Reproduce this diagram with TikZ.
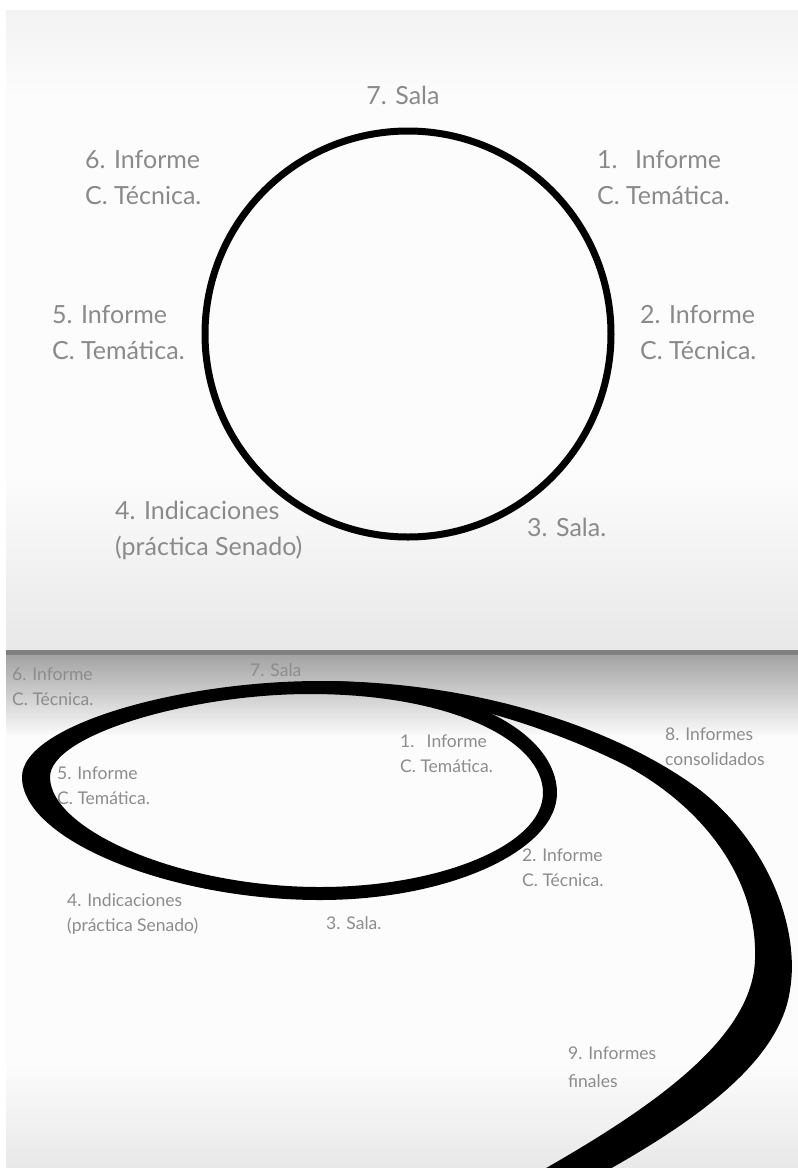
\documentclass[tikz,border=0pt]{standalone}
\usepackage{fontspec}
\setmainfont{Lato}
\begin{document}
\begin{tikzpicture}[x=1pt,y=-1pt,
  bigtxt/.style={anchor=north west,inner sep=0pt,align=left,text=txtgray,font=\fontsize{25}{36}\selectfont},
  smalltxt/.style={anchor=north west,inner sep=0pt,align=left,text=txtgray2,font=\fontsize{17.5}{25}\selectfont},
  ring/.style={draw=black,line width=7pt}]
\definecolor{txtgray}{HTML}{8A8A8A}
\definecolor{txtgray2}{HTML}{8C8C8C}
\useasboundingbox (0,0) rectangle (798,1168);
\fill[white] (0,0) rectangle (798,1168);
% top panel background
\shade[top color=black!5,bottom color=black!1] (6,10) rectangle (798,100);
\fill[black!1] (6,100) rectangle (798,470);
\shade[top color=black!1,bottom color=black!9] (6,470) rectangle (798,650);
% bottom panel background
\fill[black!50] (6,650) rectangle (798,655);
\shade[top color=black!36,bottom color=black!2] (6,655) rectangle (798,735);
\fill[black!1] (6,735) rectangle (798,1060);
\shade[top color=black!1,bottom color=black!9] (6,1060) rectangle (798,1168);

% ---- top circle ----
\node[circle,ring,minimum size=406pt,inner sep=0pt] (c) at (408,334) {};
\node[bigtxt,anchor=north] (t7) at (403,86) {7. Sala};
\node[bigtxt] (t6) at (85,150) {6. Informe\\C. Técnica.};
\node[bigtxt] (t1) at (597,150) {1.\hspace{0.7em}Informe\\C. Temática.};
\node[bigtxt] (t5) at (52,305) {5. Informe\\C. Temática.};
\node[bigtxt] (t2) at (640,305) {2. Informe\\C. Técnica.};
\node[bigtxt] (t4) at (115,501) {4. Indicaciones\\(práctica Senado)};
\node[bigtxt] (t3) at (527,518) {3. Sala.};

% ---- bottom spiral ----
% inner loop (variable width: thick on the left)
\fill[black,even odd rule]
  (22,777) .. controls (22,725) and (180,681) .. (320,681)
           .. controls (470,681) and (557,735) .. (557,793)
           .. controls (557,850) and (450,900) .. (320,900)
           .. controls (170,900) and (22,840) .. (22,777) -- cycle
  (50,777) .. controls (50,735) and (190,694) .. (310,694)
           .. controls (450,694) and (543,740) .. (543,793)
           .. controls (543,845) and (440,887) .. (320,887)
           .. controls (180,887) and (50,830) .. (50,777) -- cycle;
% outer arm, widening towards the bottom
\fill[black]
  (320,681) .. controls (480,681) and (620,730) .. (700,790)
            .. controls (770,845) and (800,930) .. (790,990)
            .. controls (780,1060) and (700,1120) .. (590,1180)
  -- (525,1180) .. controls (650,1110) and (752,1040) .. (755,960)
            .. controls (758,880) and (705,808) .. (625,765)
            .. controls (545,725) and (450,698) .. (380,693)
  -- cycle;

\node[smalltxt] (b7) at (250,663) {7. Sala};
\node[smalltxt] (b6) at (12,668) {6. Informe\\C. Técnica.};
\node[smalltxt] (b1) at (400,735) {1.\hspace{0.7em}Informe\\C. Temática.};
\node[smalltxt] (b5) at (57,767) {5. Informe\\C. Temática.};
\node[smalltxt] (b8) at (665,728) {8. Informes\\consolidados};
\node[smalltxt] (b2) at (522,849) {2. Informe\\C. Técnica.};
\node[smalltxt] (b4) at (67,893) {4. Indicaciones\\(práctica Senado)};
\node[smalltxt] (b3) at (326,916) {3. Sala.};
\node[smalltxt,font=\fontsize{17.5}{28}\selectfont] (b9) at (568,1047) {9. Informes\\finales};
\end{tikzpicture}
\end{document}
